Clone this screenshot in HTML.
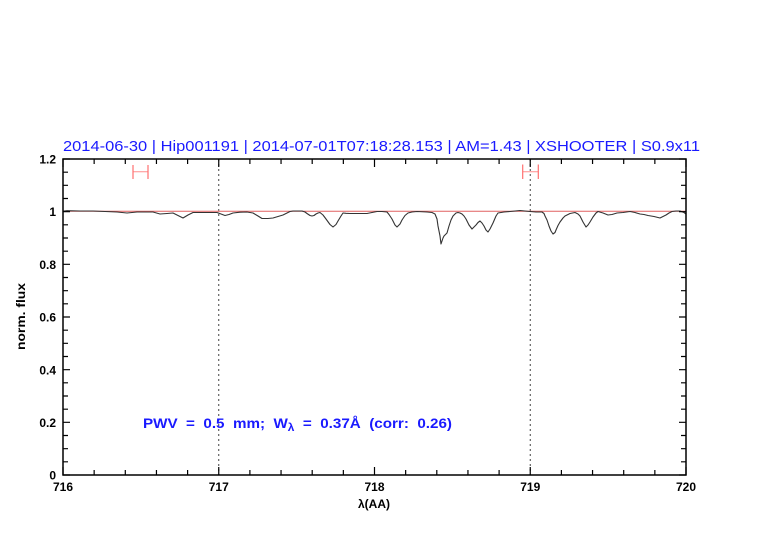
<!DOCTYPE html>
<html><head><meta charset="utf-8"><style>
html,body{margin:0;padding:0;background:#fff;}
svg{display:block;}
text{font-family:"Liberation Sans",sans-serif;}
</style></head><body>
<svg width="782" height="542" viewBox="0 0 782 542" xmlns="http://www.w3.org/2000/svg">
<rect width="782" height="542" fill="#fff"/>
<!-- title -->
<text x="63" y="151" font-size="15" fill="#1a1aff" textLength="637" lengthAdjust="spacingAndGlyphs">2014-06-30 | Hip001191 | 2014-07-01T07:18:28.153 | AM=1.43 | XSHOOTER | S0.9x11</text>
<!-- dotted verticals -->
<line x1="218.75" y1="159" x2="218.75" y2="475" stroke="#444" stroke-width="1" stroke-dasharray="2,3"/>
<line x1="530.25" y1="159" x2="530.25" y2="475" stroke="#444" stroke-width="1" stroke-dasharray="2,3"/>
<!-- reference line -->
<line x1="63" y1="211.3" x2="686" y2="211.3" stroke="#e06060" stroke-width="1"/>
<!-- error bar markers -->
<g stroke="#ff7070" stroke-width="1.2">
<line x1="133" y1="171.7" x2="148" y2="171.7" stroke="#ffa0a0"/>
<line x1="133" y1="165" x2="133" y2="179"/>
<line x1="148" y1="165" x2="148" y2="179"/>
<line x1="522.7" y1="171.7" x2="538.3" y2="171.7" stroke="#ffa0a0"/>
<line x1="522.7" y1="164.5" x2="522.7" y2="179"/>
<line x1="538.3" y1="164.5" x2="538.3" y2="179"/>
</g>
<!-- spectrum -->
<polyline fill="none" stroke="#333" stroke-width="1.1" stroke-linejoin="round" points="
63,211.2 67,210.7 80,211 93,211 105,211.5 117,212 127,213 137,212 145,212 153,212 160,214 167,213.5 173,213 178,215.5 183,218 188,215 193,212.5 200,212.5 207,212.5 217,212.5 221,214 225,215.5 229,214.5 233,213 240,212.2 247,212 253,213 258,216 262,218.5 268,218.5 273,218 278,216.5 283,215 287,213 290,211.5 293,211 302,211 305,212 307,213.5 310,215.5 312,216 314,215.5 316,214 318,213 320,212.5 323,215 326,219 330,224.5 333,227 336,224.5 338,221 341,216 343,213 346,213.3 350,213.5 358,213.5 367,213.5 372,212.5 377,211.5 382,211.5 387,212 389,214.5 392,219 395,225 397,227 400,224 402,220 405,215.5 408,213 412,212 417,211.5 427,212 432,212.5 435,214 437,219 438,226 440,236 441,244 443,238 444,236 447,233 449,226 451,220 453,216 456,213 458,212.5 460,213 462,214 464,216 466,219 469,225 472,229 474,227 476,225 478,222.5 480,221 482,223 484,226 486,230 488,232 490,229 493,223 496,216 498,213 504,212 510,211.5 515,211 520,210.5 525,211 530,211.5 536,212 542,212 544,213.5 545,216 547,220 549,226 551,231 553,234 555,232.5 556,230 558,225.5 560,222 563,218 565,216 568,214.5 570,213.5 575,212.5 578,214 580,216 583,222 586,227 588,225 590,222 593,217 596,213 598,211.5 603,213 608,215 612,214.5 617,213 623,212.5 630,211.5 635,212.5 640,214 644,214.5 648,215.5 654,216.5 660,218 663,216.5 666,215 669,213 672,211.5 676,211 680,211 684,212.5 686,214"/>
<!-- axes box -->
<rect x="63" y="159" width="623" height="316" fill="none" stroke="#000" stroke-width="1.5"/>
<!-- ticks -->
<g stroke="#000" stroke-width="1.2">
<path d="M63,475v-8 M218.75,475v-8 M374.5,475v-8 M530.25,475v-8 M686,475v-8
M63,159v8 M218.75,159v8 M374.5,159v8 M530.25,159v8 M686,159v8"/>
<path d="M94.15,475v-5 M125.3,475v-5 M156.45,475v-5 M187.6,475v-5
M249.9,475v-5 M281.05,475v-5 M312.2,475v-5 M343.35,475v-5
M405.65,475v-5 M436.8,475v-5 M467.95,475v-5 M499.1,475v-5
M561.4,475v-5 M592.55,475v-5 M623.7,475v-5 M654.85,475v-5
M94.15,159v5 M125.3,159v5 M156.45,159v5 M187.6,159v5
M249.9,159v5 M281.05,159v5 M312.2,159v5 M343.35,159v5
M405.65,159v5 M436.8,159v5 M467.95,159v5 M499.1,159v5
M561.4,159v5 M592.55,159v5 M623.7,159v5 M654.85,159v5"/>
<path d="M63,475h7 M63,422.3h7 M63,369.7h7 M63,317h7 M63,264.3h7 M63,211.7h7 M63,159h7
M686,475h-7 M686,422.3h-7 M686,369.7h-7 M686,317h-7 M686,264.3h-7 M686,211.7h-7 M686,159h-7"/>
<path d="M63,461.8h5 M63,448.7h5 M63,435.5h5 M63,409.2h5 M63,396h5 M63,382.8h5
M63,356.5h5 M63,343.3h5 M63,330.2h5 M63,303.8h5 M63,290.7h5 M63,277.5h5
M63,251.2h5 M63,238h5 M63,224.8h5 M63,198.5h5 M63,185.3h5 M63,172.2h5
M686,461.8h-5 M686,448.7h-5 M686,435.5h-5 M686,409.2h-5 M686,396h-5 M686,382.8h-5
M686,356.5h-5 M686,343.3h-5 M686,330.2h-5 M686,303.8h-5 M686,290.7h-5 M686,277.5h-5
M686,251.2h-5 M686,238h-5 M686,224.8h-5 M686,198.5h-5 M686,185.3h-5 M686,172.2h-5"/>
</g>
<!-- y tick labels -->
<g font-size="12" font-weight="bold" fill="#000" text-anchor="end">
<text x="56" y="479.5">0</text>
<text x="56" y="427">0.2</text>
<text x="56" y="374.5">0.4</text>
<text x="56" y="321.5">0.6</text>
<text x="56" y="269">0.8</text>
<text x="56" y="216">1</text>
<text x="56" y="163.5">1.2</text>
</g>
<!-- x tick labels -->
<g font-size="12" font-weight="bold" fill="#000" text-anchor="middle">
<text x="63" y="491">716</text>
<text x="218.75" y="491">717</text>
<text x="374.5" y="491">718</text>
<text x="530.25" y="491">719</text>
<text x="686" y="491">720</text>
</g>
<!-- axis labels -->
<text x="358" y="508" font-size="12" font-weight="bold" fill="#000" textLength="32" lengthAdjust="spacingAndGlyphs">λ(AA)</text>
<text transform="translate(25,350) rotate(-90)" font-size="12" font-weight="bold" fill="#000" textLength="67" lengthAdjust="spacingAndGlyphs">norm. flux</text>
<!-- PWV annotation -->
<text x="143" y="428" font-size="14" fill="#1a1aff" font-weight="bold" xml:space="preserve" textLength="309" lengthAdjust="spacingAndGlyphs">PWV  =  0.5  mm;  W<tspan font-size="11" dy="3">λ</tspan><tspan dy="-3">  =  0.37Å  (corr:  0.26)</tspan></text>
</svg>
</body></html>
